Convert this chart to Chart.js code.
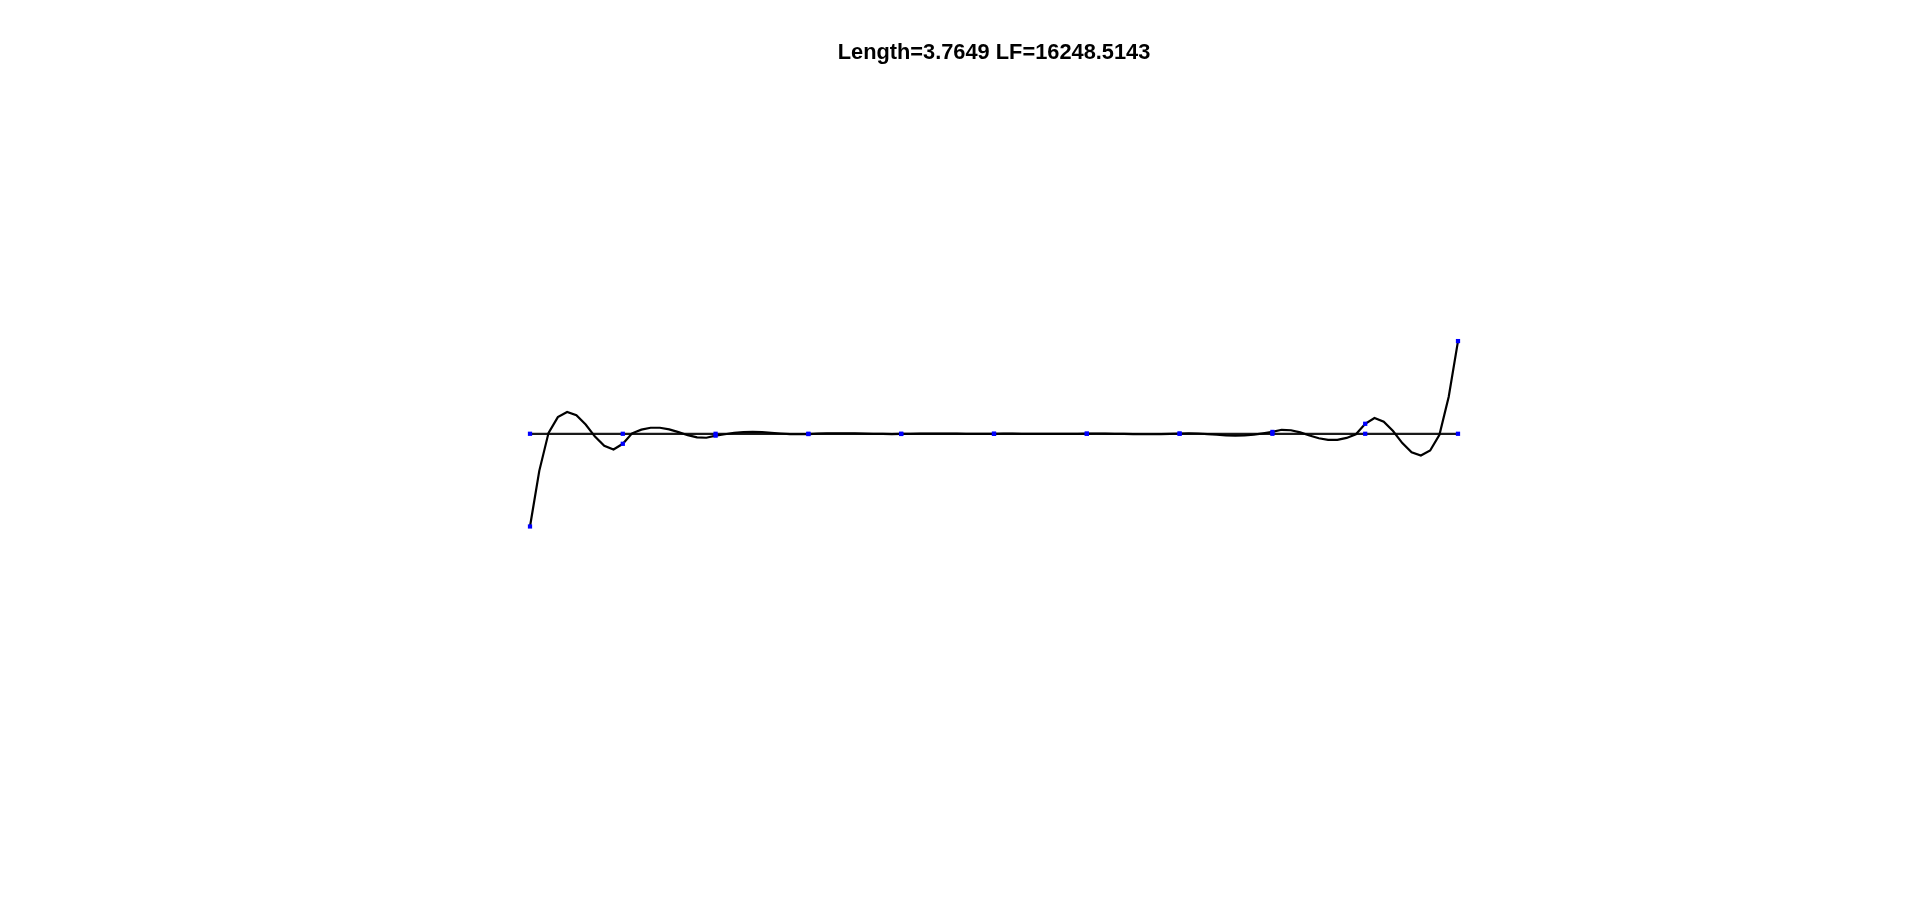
<!DOCTYPE html>
<html>
<head>
<meta charset="utf-8">
<script src="https://cdn.jsdelivr.net/npm/chart.js@4/dist/chart.umd.min.js"></script>
<style>
html,body{margin:0;padding:0;background:#fff;overflow:hidden;}
#c{display:block;}
</style>
</head>
<body>
<canvas id="c" width="1920" height="899"></canvas>
<script>
const titleText = "Length=3.7649 LF=16248.5143";

const nodeX = [0,1,2,3,4,5,6,7,8,9,10];
const baseY = [0,0,0,0,0,0,0,0,0,0,0];
const nodeCurveY = [-1.0,-0.108,-0.02,-0.003,-0.002,0,0.002,0.003,0.02,0.108,1.0];

const curveX = [0,0.1,0.2,0.3,0.4,0.5,0.6,0.7,0.8,0.9,1,1.1,1.2,1.3,1.4,1.5,1.6,1.7,1.8,1.9,
2,2.1,2.2,2.3,2.4,2.5,2.6,2.7,2.8,2.9,3,3.1,3.2,3.3,3.4,3.5,3.6,3.7,3.8,3.9,
4,4.1,4.2,4.3,4.4,4.5,4.6,4.7,4.8,4.9,5,5.1,5.2,5.3,5.4,5.5,5.6,5.7,5.8,5.9,
6,6.1,6.2,6.3,6.4,6.5,6.6,6.7,6.8,6.9,7,7.1,7.2,7.3,7.4,7.5,7.6,7.7,7.8,7.9,
8,8.1,8.2,8.3,8.4,8.5,8.6,8.7,8.8,8.9,9,9.1,9.2,9.3,9.4,9.5,9.6,9.7,9.8,9.9,10];
const curveY = [-1.00,-0.40,0.01,0.18,0.235,0.20,0.10,-0.03,-0.13,-0.17,
-0.108,0.005,0.045,0.065,0.065,0.048,0.018,-0.015,-0.038,-0.043,
-0.02,-0.005,0.01,0.018,0.02,0.017,0.01,0.003,-0.003,-0.005,
-0.003,0.001,0.004,0.005,0.005,0.004,0.002,0,-0.002,-0.003,
-0.002,0,0.001,0.002,0.002,0.002,0.001,0,-0.001,-0.001,
0,0.001,0.001,0,-0.001,-0.002,-0.002,-0.002,-0.001,0,
0.002,0.003,0.002,0,-0.002,-0.004,-0.005,-0.005,-0.004,-0.001,
0.003,0.005,0.003,-0.003,-0.01,-0.017,-0.02,-0.018,-0.01,0.005,
0.02,0.043,0.038,0.015,-0.018,-0.048,-0.065,-0.065,-0.045,-0.005,
0.108,0.17,0.13,0.03,-0.10,-0.20,-0.235,-0.18,-0.01,0.40,1.00];

const pts = (xs, ys) => xs.map((x, i) => ({x: x, y: ys[i]}));

new Chart(document.getElementById('c'), {
  type: 'scatter',
  data: {
    datasets: [
      {
        data: pts(nodeX, nodeCurveY),
        showLine: false,
        clip: false,
        pointStyle: 'rect',
        pointRadius: 3,
        pointBackgroundColor: '#0000ff',
        pointBorderColor: '#0000ff',
        pointBorderWidth: 0
      },
      {
        data: pts(nodeX, baseY),
        showLine: false,
        clip: false,
        pointStyle: 'rect',
        pointRadius: 3,
        pointBackgroundColor: '#0000ff',
        pointBorderColor: '#0000ff',
        pointBorderWidth: 0
      },
      {
        data: pts(curveX, curveY),
        showLine: true,
        clip: false,
        borderColor: '#000000',
        borderWidth: 2.2,
        pointRadius: 0,
        tension: 0
      },
      {
        data: pts(nodeX, baseY),
        showLine: true,
        clip: false,
        borderColor: '#1a1a1a',
        borderWidth: 2.2,
        pointRadius: 0,
        tension: 0
      }
    ]
  },
  options: {
    responsive: false,
    animation: false,
    events: [],
    layout: {padding: {left: 530, right: 462, top: 0, bottom: 99}},
    scales: {
      x: {type: 'linear', min: 0, max: 10, display: false},
      y: {type: 'linear', min: -3.951, max: 3.951, display: false}
    },
    plugins: {
      legend: {display: false},
      tooltip: {enabled: false},
      title: {
        display: true,
        text: titleText,
        color: '#000000',
        font: {family: "'Liberation Sans', Arial, sans-serif", size: 21.8, weight: 'bold', lineHeight: 1.2},
        padding: {top: 40, bottom: 1.4}
      }
    }
  }
});
</script>
</body>
</html>
